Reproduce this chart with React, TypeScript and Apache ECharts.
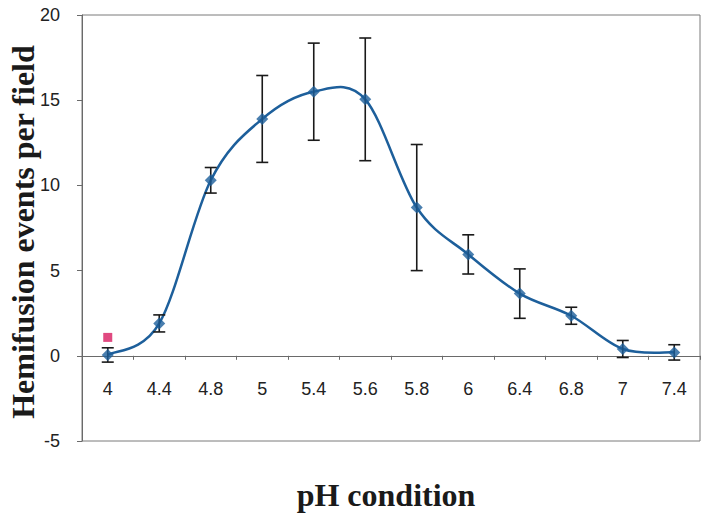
import React, { useEffect, useRef } from "react";
import * as echarts from "echarts";

const categories = ["4", "4.4", "4.8", "5", "5.4", "5.6", "5.8", "6", "6.4", "6.8", "7", "7.4"];
const means = [0.05, 1.9, 10.3, 13.9, 15.5, 15.05, 8.7, 5.95, 3.65, 2.35, 0.4, 0.2];
const errors = [0.42, 0.5, 0.75, 2.55, 2.85, 3.6, 3.7, 1.15, 1.45, 0.5, 0.5, 0.45];
const controlCategory = "4";
const controlValue = 1.08;
const yTicks = { min: -5, max: 20, interval: 5 };
const xTitle = "pH condition";
const yTitle = "Hemifusion events per field";

export default function App() {
  const ref = useRef<HTMLDivElement>(null);
  useEffect(() => {
    if (!ref.current) return;
    const chart = echarts.init(ref.current, undefined, { renderer: "svg" });
    const n = means.length;
    const errData = categories.map((c, i) => [i, means[i] - errors[i], means[i] + errors[i]]);
    // one item per curve segment: [i, prevIdx, nextIdx, next2Idx, yPrev, yI, yNext, yNext2]
    const segData: number[][] = [];
    for (let i = 0; i < n - 1; i++) {
      const p = Math.max(0, i - 1);
      const q = Math.min(n - 1, i + 2);
      segData.push([i, p, i + 1, q, means[p], means[i], means[i + 1], means[q]]);
    }
    const pointData = means.map((v, i) => [i, v]);
    const plotHeight = 516 - 15 - 75;
    const zeroOffset = (plotHeight * (0 - yTicks.min)) / (yTicks.max - yTicks.min);
    const labelFont = "Arial, 'Liberation Sans', sans-serif";
    const titleFont = "'Times New Roman', 'Liberation Serif', serif";
    chart.setOption({
      animation: false,
      backgroundColor: "#ffffff",
      grid: {
        left: 82,
        top: 15,
        right: 7,
        bottom: 75,
        show: true,
        borderColor: "#7a7a7a",
        borderWidth: 1,
        backgroundColor: "transparent",
      },
      xAxis: {
        type: "category",
        data: categories,
        boundaryGap: true,
        offset: -zeroOffset,
        axisLine: { onZero: false, lineStyle: { color: "#6a6a6a", width: 1 } },
        axisTick: { show: true, length: 4, alignWithLabel: false, lineStyle: { color: "#6a6a6a" } },
        axisLabel: { color: "#222222", fontSize: 18, fontFamily: labelFont, margin: 24 },
        splitLine: { show: false },
      },
      yAxis: {
        type: "value",
        min: yTicks.min,
        max: yTicks.max,
        interval: yTicks.interval,
        axisLine: { show: true, lineStyle: { color: "#6a6a6a", width: 1 } },
        axisTick: { show: true, length: 5, lineStyle: { color: "#6a6a6a" } },
        axisLabel: { color: "#222222", fontSize: 18, fontFamily: labelFont, margin: 22 },
        splitLine: { show: false },
      },
      graphic: [
        {
          type: "text",
          x: 386,
          y: 495,
          style: {
            text: xTitle,
            font: `bold 32px ${titleFont}`,
            fill: "#1a1a1a",
            textAlign: "center",
            textVerticalAlign: "middle",
          },
        },
        {
          type: "text",
          x: 23,
          y: 232,
          rotation: Math.PI / 2,
          style: {
            text: yTitle,
            font: `bold 32px ${titleFont}`,
            fill: "#1a1a1a",
            textAlign: "center",
            textVerticalAlign: "middle",
          },
        },
      ],
      series: [
        {
          type: "custom",
          data: segData,
          z: 2,
          renderItem: (params: any, api: any) => {
            const i = api.value(0);
            const P0 = api.coord([api.value(1), api.value(4)]);
            const P1 = api.coord([i, api.value(5)]);
            const P2 = api.coord([api.value(2), api.value(6)]);
            const P3 = api.coord([api.value(3), api.value(7)]);
            return {
              type: "bezierCurve",
              shape: {
                x1: P1[0],
                y1: P1[1],
                x2: P2[0],
                y2: P2[1],
                cpx1: P1[0] + (P2[0] - P0[0]) / 6,
                cpy1: P1[1] + (P2[1] - P0[1]) / 6,
                cpx2: P2[0] - (P3[0] - P1[0]) / 6,
                cpy2: P2[1] - (P3[1] - P1[1]) / 6,
              },
              style: { stroke: "#1d5f9b", lineWidth: 2.5, fill: "none" },
            };
          },
        },
        {
          type: "custom",
          data: errData,
          z: 3,
          renderItem: (params: any, api: any) => {
            const x = api.value(0);
            const lo = api.coord([x, api.value(1)]);
            const hi = api.coord([x, api.value(2)]);
            const hw = 6;
            const style = { stroke: "#1a1a1a", lineWidth: 1.6 };
            return {
              type: "group",
              children: [
                { type: "line", shape: { x1: lo[0], y1: lo[1], x2: hi[0], y2: hi[1] }, style },
                { type: "line", shape: { x1: hi[0] - hw, y1: hi[1], x2: hi[0] + hw, y2: hi[1] }, style },
                { type: "line", shape: { x1: lo[0] - hw, y1: lo[1], x2: lo[0] + hw, y2: lo[1] }, style },
              ],
            };
          },
        },
        {
          type: "scatter",
          data: pointData,
          symbol: "diamond",
          symbolSize: 12,
          itemStyle: { color: "#1d5f9b" },
          z: 4,
        },
        {
          type: "scatter",
          data: [[controlCategory, controlValue]],
          symbol: "rect",
          symbolSize: 9,
          itemStyle: { color: "#d81b60" },
          z: 5,
        },
      ],
    });
    return () => chart.dispose();
  }, []);
  return (
    <div
      ref={ref}
      style={{ position: "absolute", left: 0, top: 0, width: 707, height: 516, background: "#fff" }}
    />
  );
}
